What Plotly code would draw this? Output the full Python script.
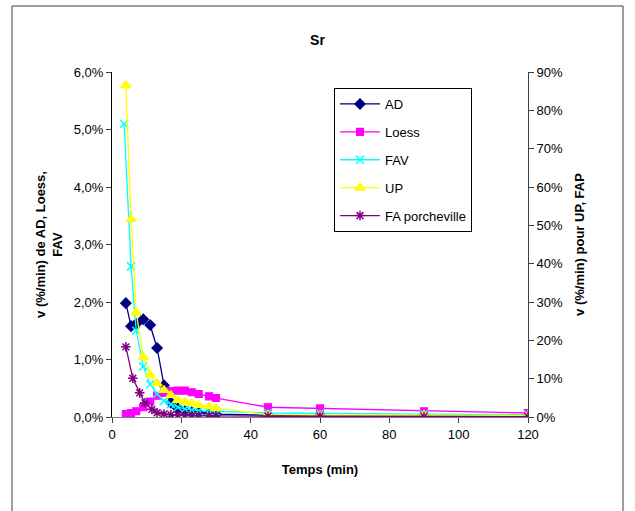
import plotly.graph_objects as go
import numpy as np

# Time (min)
t_ad = [4, 5.5, 7, 9, 11, 13, 15, 17, 19, 21, 23, 25, 28, 30, 45, 60, 90, 120]
t_loess = [4, 5.5, 7, 9, 11, 13, 15, 17, 19, 21, 23, 25, 28, 30, 45, 60, 90, 120]
t_fav = [3.5, 5.5, 7, 9, 11, 13, 15, 17, 19, 21, 23, 25, 28, 30, 45, 60, 90, 120]
t_up = [4, 5.5, 7, 9, 11, 13, 15, 17, 19, 21, 23, 25, 28, 30, 45, 60, 90, 120]
t_fap = [4, 6, 8, 9.5, 11.5, 13, 15, 17, 19, 21, 23, 25, 28, 30, 45, 60, 90, 120]

# v (%/min), left axis
ad = [1.98, 1.58, 1.62, 1.70, 1.60, 1.20, 0.55, 0.25, 0.15, 0.10, 0.08, 0.07, 0.06, 0.05, 0.03, 0.02, 0.02, 0.02]
loess = [0.05, 0.07, 0.10, 0.17, 0.27, 0.37, 0.42, 0.45, 0.46, 0.46, 0.43, 0.40, 0.36, 0.33, 0.17, 0.15, 0.10, 0.07]
fav = [5.10, 2.62, 1.50, 0.88, 0.57, 0.40, 0.28, 0.22, 0.17, 0.14, 0.12, 0.11, 0.10, 0.10, 0.07, 0.06, 0.05, 0.04]
# v (%/min), right axis
up = [86.5, 51.6, 27.2, 15.7, 11.0, 8.8, 7.0, 5.7, 4.4, 4.0, 3.6, 3.1, 2.7, 2.3, 0.6, 0.5, 0.5, 0.4]
fap = [18.3, 10.1, 6.3, 3.7, 2.0, 1.1, 0.8, 0.6, 0.5, 0.4, 0.4, 0.3, 0.3, 0.3, 0.2, 0.2, 0.1, 0.1]

FONT = "Liberation Sans, Arial, sans-serif"

fig = go.Figure()

def add(name, t, v, color, symbol, size, yaxis, lw=1.2):
    fig.add_trace(go.Scatter(
        x=t, y=np.array(v) / 100.0, name=name, mode="lines+markers",
        line=dict(color=color, width=1.3),
        marker=dict(symbol=symbol, size=size, color=color,
                    line=dict(color=color, width=lw)),
        yaxis=yaxis, legendgroup=name,
    ))

add("AD", t_ad, ad, "#000080", "diamond", 8, "y")
add("Loess", t_loess, loess, "#FF00FF", "square", 7, "y")
add("FAV", t_fav, fav, "#00FFFF", "x-thin", 8, "y", lw=1.5)
add("UP", t_up, up, "#FFFF00", "triangle-up", 9, "y2")
add("FA porcheville", t_fap, fap, "#800080", "asterisk-open", 8, "y2", lw=1.5)

W, H = 635, 511
L, R, T, B = 112, 107, 72, 94
pw, ph = W - L - R, H - T - B

def px(x):
    return (x - L) / pw

def py(y):
    return (H - B - y) / ph

frame = dict(color="#404040", width=1)
fig.update_layout(
    width=W, height=H,
    margin=dict(l=L, r=R, t=T, b=B),
    paper_bgcolor="white", plot_bgcolor="white",
    separators=", ",
    font=dict(family=FONT, size=13, color="black"),
    showlegend=True,
    title=dict(text="<b>Sr</b>", x=0.5, xanchor="center", y=1 - 40 / H, yanchor="middle",
               font=dict(family=FONT, size=14, color="black")),
    xaxis=dict(range=[0, 120], dtick=20, showgrid=False, zeroline=False,
               showline=True, linecolor="#808080", linewidth=1,
               ticks="outside", ticklen=5, tickcolor="#404040",
               tickfont=dict(size=13),
               title=dict(text="<b>Temps (min)</b>", standoff=24, font=dict(size=13))),
    yaxis=dict(range=[0, 0.06], dtick=0.01, tickformat=".1%", showgrid=False,
               zeroline=False, showline=True, linecolor="black", linewidth=1,
               ticks="outside", ticklen=5, tickcolor="#404040", tickfont=dict(size=13),
               title=dict(text="<b>v (%/min) de AD, Loess,<br>FAV</b>", standoff=8,
                          font=dict(size=13))),
    yaxis2=dict(range=[0, 0.9], dtick=0.1, tickformat=".0%", overlaying="y", side="right",
                showgrid=False, zeroline=False, showline=True, linecolor="#404040", linewidth=1,
                ticks="outside", ticklen=5, tickcolor="#404040", tickfont=dict(size=13),
                title=dict(text="<b>v (%/min) pour UP, FAP</b>", standoff=12,
                           font=dict(size=13))),
    legend=dict(x=px(334), y=py(88), xanchor="left", yanchor="top",
                bordercolor="black", borderwidth=1, bgcolor="white",
                font=dict(size=13), traceorder="grouped", tracegroupgap=8,
                itemwidth=40),
    shapes=[
        dict(type="line", xref="paper", yref="paper", x0=px(12), x1=px(12),
             y0=py(511), y1=py(6), line=frame, layer="below"),
        dict(type="line", xref="paper", yref="paper", x0=px(12), x1=px(623),
             y0=py(6), y1=py(6), line=frame, layer="below"),
        dict(type="line", xref="paper", yref="paper", x0=px(623), x1=px(623),
             y0=py(511), y1=py(6), line=frame, layer="below"),
    ],
)

fig.write_html("out.html", config={"displayModeBar": False},
               post_script="document.body.style.margin='0';")
